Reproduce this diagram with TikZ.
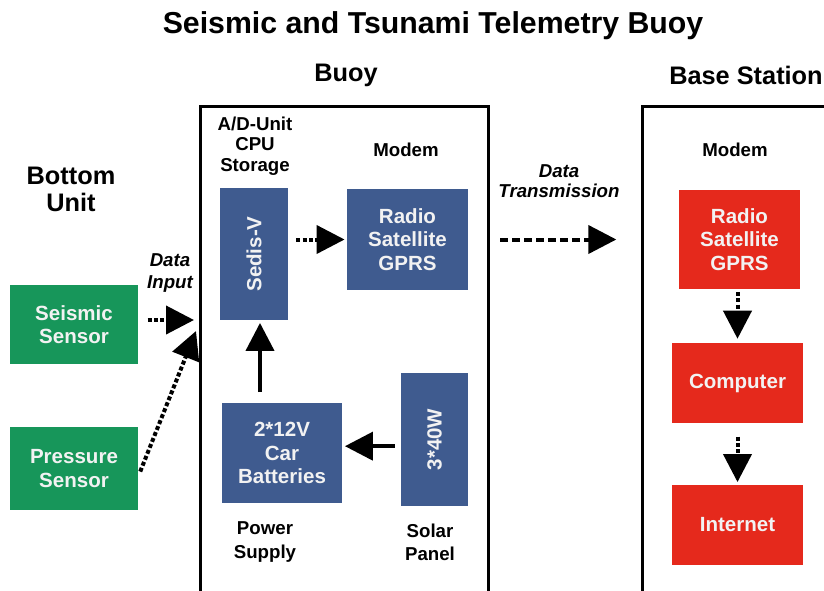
\documentclass[tikz,border=0pt]{standalone}
\usepackage{fontspec}
\setmainfont{Liberation Sans}
\usetikzlibrary{arrows.meta,positioning}

\definecolor{boxblue}{HTML}{3F5B8F}
\definecolor{boxgreen}{HTML}{17965A}
\definecolor{boxred}{HTML}{E5291C}
\definecolor{boxtext}{HTML}{F2F2F2}

\tikzset{
  unit/.style={fill=#1, text=boxtext, inner sep=0pt, align=center,
    font=\fontsize{15.4}{17.6}\selectfont\bfseries},
  hdr/.style={inner sep=0pt, align=center, font=\fontsize{19}{20}\selectfont\bfseries},
  lbl/.style={inner sep=0pt, align=center, font=\fontsize{14}{15.4}\selectfont\bfseries},
  flow/.style={inner sep=0pt, align=center, font=\fontsize{14}{16}\selectfont\bfseries\itshape},
  frame/.style={line width=2.25pt, line join=miter},
  bigtip/.style={-{Triangle[length=21pt,width=21pt]}},
  dotarrow/.style={bigtip, line width=3pt, dash pattern=on 3pt off 1.8pt},
  dasharrow/.style={bigtip, line width=3pt, dash pattern=on 6pt off 3pt},
  solidarrow/.style={bigtip, line width=3pt},
}

\begin{document}
\begin{tikzpicture}[x=0.75pt,y=-0.75pt]
  \useasboundingbox (0,0) rectangle (824,590);
  \clip (0,0) rectangle (824,590);

  % headings
  \node[font=\fontsize{22.7}{24}\selectfont\bfseries, inner sep=0pt] (title) at (433,26) {Seismic and Tsunami Telemetry Buoy};
  \node[hdr] (hbuoy) at (346,75) {Buoy};
  \node[hdr, anchor=west] (hbase) at (669,75) {Base Station};
  \node[hdr, font=\fontsize{19}{20.3}\selectfont\bfseries] (hbottom) at (71,189) {Bottom\\Unit};

  % frames, open at the bottom
  \draw[frame] (200,600) -- (200,106) -- (488,106) -- (488,600);
  \draw[frame] (642,600) -- (642,106) -- (830,106);

  % bottom unit
  \node[unit=boxgreen, minimum width=96pt, minimum height=59pt] (seis) at (74,324.5) {Seismic\\Sensor};
  \node[unit=boxgreen, minimum width=96pt, minimum height=62pt] (pres) at (74,468.5) {Pressure\\Sensor};
  \node[flow] (din) at (170,273) {Data\\Input};
  \coordinate (inA) at (194,320);
  \coordinate (inB) at (196,331);
  \draw[dotarrow, shorten <=7pt] (seis.east |- inA) -- (inA);
  \draw[dotarrow, shorten <=4pt] ([yshift=-6pt]pres.east) -- (inB);

  % buoy
  \node[lbl] (lcpu) at (255,146) {A/D-Unit\\CPU\\Storage};
  \node[lbl] (lmodem) at (406,150) {Modem};
  \node[unit=boxblue, minimum width=51pt, minimum height=99pt] (sedis) at (254,254) {\rotatebox{90}{Sedis-V}};
  \node[unit=boxblue, minimum width=91pt, minimum height=76pt] (radio) at (407.5,239.5) {Radio\\Satellite\\GPRS};
  \node[unit=boxblue, minimum width=90pt, minimum height=75pt] (bat) at (282,453) {2*12V\\Car\\Batteries};
  \node[unit=boxblue, minimum width=50pt, minimum height=100pt] (solar) at (434.5,439.5) {\rotatebox{90}{3*40W}};
  \node[lbl, font=\fontsize{14}{17.3}\selectfont\bfseries] (lpower) at (265,542) {Power\\Supply};
  \node[lbl, font=\fontsize{14}{17.3}\selectfont\bfseries] (lsolar) at (430,542) {Solar\\Panel};

  \draw[dotarrow, shorten <=6pt, shorten >=1.5pt] (sedis.east |- radio.west) -- (radio.west);
  \draw[solidarrow, shorten <=8pt, shorten >=2pt] ([xshift=4.5pt]sedis.south |- bat.north) -- ([xshift=4.5pt]sedis.south);
  \draw[solidarrow, shorten <=4.5pt, shorten >=2pt] ([yshift=-5pt]solar.west) -- ([yshift=-5pt]solar.west -| bat.east);

  % link to the shore
  \node[flow, font=\fontsize{14}{14.5}\selectfont\bfseries\itshape] (dtx) at (559,181) {Data\\Transmission};
  \draw[dasharrow, shorten <=24pt, shorten >=47pt] (radio.east) -- (radio.east -| 679,0);

  % base station
  \node[lbl] (lbmodem) at (735,150) {Modem};
  \node[unit=boxred, minimum width=91pt, minimum height=74pt] (bradio) at (739.5,239.5) {Radio\\Satellite\\GPRS};
  \node[unit=boxred, minimum width=98pt, minimum height=60pt] (comp) at (737.5,383) {Computer};
  \node[unit=boxred, minimum width=98pt, minimum height=60pt] (inet) at (737.5,525) {Internet};

  \draw[dotarrow, shorten <=2pt, shorten >=3pt] (bradio.south -| comp.north) -- (comp.north);
  \draw[dotarrow, shorten <=10pt, shorten >=2pt] (comp.south) -- (inet.north);
\end{tikzpicture}
\end{document}
